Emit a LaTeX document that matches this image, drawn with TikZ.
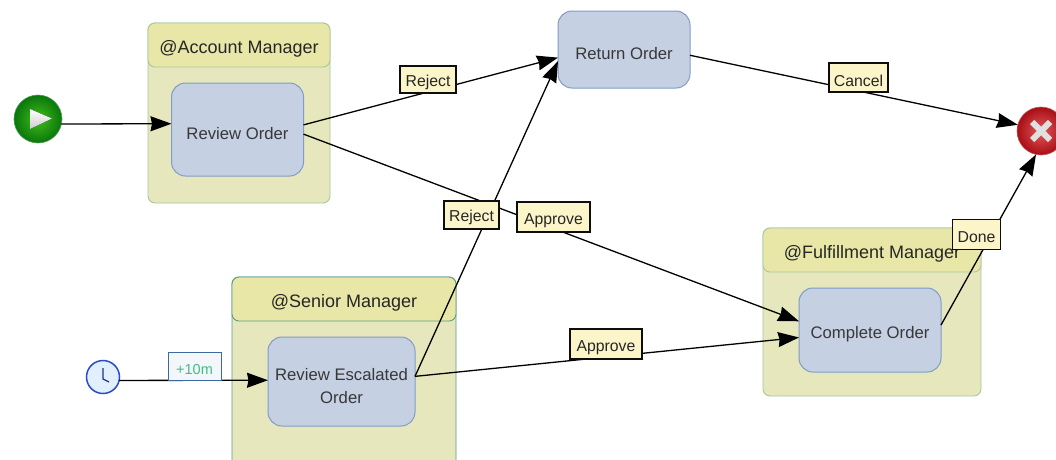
\documentclass[tikz,border=0pt]{standalone}
\usepackage{fontspec}
\setmainfont{Liberation Sans}
\usetikzlibrary{arrows.meta}
\newcommand{\lowered}[2][4.2pt]{\raisebox{-#1}[\height][\depth]{#2}}
\definecolor{laneFill}{HTML}{E6E7BC}
\definecolor{headFill}{HTML}{E8E7A8}
\definecolor{laneLine}{HTML}{A9C79F}
\definecolor{laneDark}{HTML}{5F9C85}
\definecolor{taskFill}{HTML}{C6D0E3}
\definecolor{taskLine}{HTML}{7F9DC6}
\definecolor{tagFill}{HTML}{FBF5C9}
\definecolor{timeLine}{HTML}{3D6A9E}
\definecolor{timeFill}{HTML}{F3F6FA}
\definecolor{timeText}{HTML}{3FBF7F}
\definecolor{goIn}{HTML}{3FBE18}
\definecolor{goOut}{HTML}{0A760C}
\definecolor{stopIn}{HTML}{E2585C}
\definecolor{stopOut}{HTML}{A80E14}
\definecolor{clockFill}{HTML}{E2EFFC}
\definecolor{clockLine}{HTML}{2A4CD0}
\tikzset{
  lanebox/.style={draw=#1,line width=0.9pt,fill=laneFill,rounded corners=7pt,inner sep=0pt,outer sep=0pt},
  headbox/.style={draw=#1,line width=0.9pt,fill=headFill,rounded corners=7pt,inner sep=0pt,outer sep=0pt,text=black!85,font=\fontsize{18}{21}\selectfont},
  taskbox/.style={draw=taskLine,line width=1pt,fill=taskFill,rounded corners=14pt,inner sep=0pt,outer sep=0pt,align=center,text=black!78,font=\fontsize{16.7}{23}\selectfont},
  tagbox/.style={draw=black!95,line width=1.1pt,fill=tagFill,inner sep=0pt,outer sep=0pt,text=black!85,font=\fontsize{15.8}{19}\selectfont},
  timebox/.style={draw=timeLine,line width=1pt,fill=timeFill,inner sep=0pt,outer sep=0pt,text=timeText,font=\fontsize{14.5}{17}\selectfont},
  flow/.style={draw=black,line width=1.3pt,-{Stealth[length=21pt,width=15pt,inset=1.5pt]}},
  plain/.style={inner sep=0pt,outer sep=0pt,circle},
}
\begin{document}
\begin{tikzpicture}[x=1pt,y=-1pt]
\clip (0,0) rectangle (1056,459);
\fill[white] (0,0) rectangle (1056,459);
% lanes
\node[lanebox=laneLine,minimum width=182pt,minimum height=180pt] (laneA) at (239,113) {};
\node[headbox=laneLine,minimum width=182pt,minimum height=44pt] (headA) at (239,45) {\lowered{@Account Manager}};
\node[lanebox=laneDark,minimum width=224pt,minimum height=210pt] (laneS) at (344,382) {};
\node[headbox=laneDark,minimum width=224pt,minimum height=44pt] (headS) at (344,299) {\lowered{@Senior Manager}};
\node[lanebox=laneLine,minimum width=218pt,minimum height=168pt] (laneF) at (872,312) {};
\node[headbox=laneLine,minimum width=218pt,minimum height=44pt] (headF) at (872,250) {\lowered{@Fulfillment Manager}};
% tasks
\node[taskbox,minimum width=132pt,minimum height=93pt] (rev) at (237.5,129.5) {\lowered{Review Order}};
\node[taskbox,minimum width=132pt,minimum height=77pt] (ret) at (624,49.5) {\lowered{Return Order}};
\node[taskbox,minimum width=147pt,minimum height=89pt] (esc) at (341.5,381.5) {\lowered{Review Escalated}\\\lowered{Order}};
\node[taskbox,minimum width=142pt,minimum height=84pt] (comp) at (870,330) {\lowered{Complete Order}};
% events
\node[plain,minimum size=48pt,inner color=goIn,outer color=goOut,draw=goOut!70!white,line width=.6pt] (start) at (38,119) {};
\fill[top color=white,bottom color=black!20] (30,109) -- (52,118.5) -- (30,129) -- cycle;
\node[plain,minimum size=48pt,inner color=stopIn,outer color=stopOut,draw=stopOut!70!white,line width=.6pt] (stop) at (1041,131) {};
\draw[white!88!black,line width=6pt] (1032,122) -- (1050,140) (1032,140) -- (1050,122);
\node[plain,minimum size=33pt,fill=clockFill,draw=clockLine,line width=1.5pt] (timer) at (103,377) {};
\draw[clockLine!70!black,line width=1.3pt] (103,368) -- (103,379) -- (109,382);
% connectors
\draw[flow] (start.-12) -- (rev.175.24);
\draw[flow] (timer.-12) -- (esc.179.2);
\draw[flow] (rev.4.76) -- (ret.187.3);
\draw[flow] (rev.-4.76) -- (comp.173.6);
\draw[flow] (ret.-5.6) -- (stop.165.5);
\draw[flow] (esc.4.3) -- (ret.190.7);
\draw[flow] (esc.4.3) -- (comp.186.4);
\draw[flow] (comp.4) -- (stop.258);
% labels
\node[timebox,minimum width=53pt,minimum height=28pt] (t10) at (194.5,366) {\lowered[3pt]{+10m}};
\node[tagbox,minimum width=56pt,minimum height=27pt] (lab1) at (428,79.5) {\lowered[2.5pt]{Reject}};
\node[tagbox,minimum width=59pt,minimum height=29pt] (lab2) at (858.5,77.5) {\lowered[3pt]{Cancel}};
\node[tagbox,minimum width=73pt,minimum height=30pt] (lab3) at (553.5,217) {\lowered[3.5pt]{Approve}};
\node[tagbox,minimum width=55pt,minimum height=28pt] (lab4) at (471.5,215) {\lowered[2.5pt]{Reject}};
\node[tagbox,minimum width=72pt,minimum height=30pt] (lab5) at (606,344) {\lowered[3.5pt]{Approve}};
\node[tagbox,minimum width=48pt,minimum height=30pt] (lab6) at (976.5,234.5) {\lowered[3pt]{Done}};
\end{tikzpicture}
\end{document}
